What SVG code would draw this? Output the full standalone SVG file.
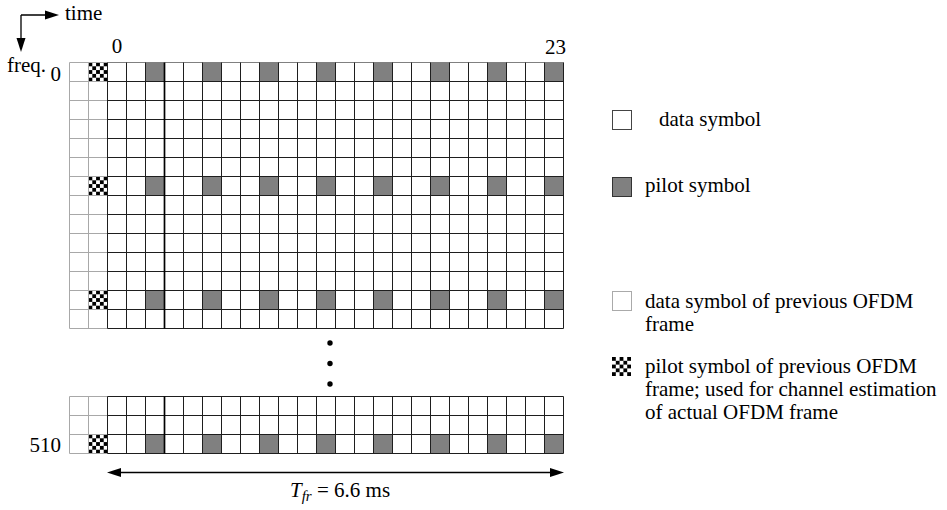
<svg xmlns="http://www.w3.org/2000/svg" width="947" height="510" viewBox="0 0 947 510" font-family="'Liberation Serif','Times New Roman',serif">
<defs>
<style>
text{font-family:"Liberation Serif","Times New Roman",serif;font-size:21px;fill:#000}
.cur{fill:none;stroke:#1e1e1e;stroke-width:1}
.prev{fill:none;stroke:#a8a8a8;stroke-width:1}
.pil{fill:#808080}
.arrow{stroke:#000;stroke-width:1.3;fill:none}
.head{fill:#000}
.sq{fill:#000}
</style>
<pattern id="chkA" patternUnits="userSpaceOnUse" x="88.5" y="62.5" width="7.6" height="7.6">
<rect width="7.6" height="7.6" fill="#fff"/>
<rect class="sq" width="3.8" height="3.8"/>
<rect class="sq" x="3.8" y="3.8" width="3.8" height="3.8"/>
</pattern>
<pattern id="chkB" patternUnits="userSpaceOnUse" x="88.5" y="176.5" width="7.6" height="7.6">
<rect width="7.6" height="7.6" fill="#fff"/>
<rect class="sq" width="3.8" height="3.8"/>
<rect class="sq" x="3.8" y="3.8" width="3.8" height="3.8"/>
</pattern>
<pattern id="chkC" patternUnits="userSpaceOnUse" x="88.5" y="290.5" width="7.6" height="7.6">
<rect width="7.6" height="7.6" fill="#fff"/>
<rect class="sq" width="3.8" height="3.8"/>
<rect class="sq" x="3.8" y="3.8" width="3.8" height="3.8"/>
</pattern>
<pattern id="chkD" patternUnits="userSpaceOnUse" x="88.5" y="434.5" width="7.6" height="7.6">
<rect width="7.6" height="7.6" fill="#fff"/>
<rect class="sq" width="3.8" height="3.8"/>
<rect class="sq" x="3.8" y="3.8" width="3.8" height="3.8"/>
</pattern>
<pattern id="chkE" patternUnits="userSpaceOnUse" x="612" y="357" width="7.6" height="7.6">
<rect width="7.6" height="7.6" fill="#fff"/>
<rect class="sq" width="3.8" height="3.8"/>
<rect class="sq" x="3.8" y="3.8" width="3.8" height="3.8"/>
</pattern>
</defs>

<g id="axes">
<path class="arrow" d="M21,15 H47 M21,15 V40"/>
<polygon class="head" points="45,10.5 59,15 45,19.5"/>
<polygon class="head" points="16.5,38 21,52 25.5,38"/>
<text x="65" y="20">time</text>
<text x="7" y="72">freq.</text>
</g>

<g id="labels">
<text x="117" y="53" text-anchor="middle">0</text>
<text x="555.5" y="54" text-anchor="middle">23</text>
<text x="61" y="81" text-anchor="end">0</text>
<text x="61" y="452" text-anchor="end">510</text>
</g>

<g id="frame-top">
<rect x="88.5" y="62.5" width="19" height="19" fill="url(#chkA)"/>
<rect x="88.5" y="176.5" width="19" height="19" fill="url(#chkB)"/>
<rect x="88.5" y="290.5" width="19" height="19" fill="url(#chkC)"/>
<g class="pil">
<rect x="145.5" y="62.5" width="19" height="19"/><rect x="202.5" y="62.5" width="19" height="19"/><rect x="259.5" y="62.5" width="19" height="19"/><rect x="316.5" y="62.5" width="19" height="19"/><rect x="373.5" y="62.5" width="19" height="19"/><rect x="430.5" y="62.5" width="19" height="19"/><rect x="487.5" y="62.5" width="19" height="19"/><rect x="544.5" y="62.5" width="19" height="19"/>
<rect x="145.5" y="176.5" width="19" height="19"/><rect x="202.5" y="176.5" width="19" height="19"/><rect x="259.5" y="176.5" width="19" height="19"/><rect x="316.5" y="176.5" width="19" height="19"/><rect x="373.5" y="176.5" width="19" height="19"/><rect x="430.5" y="176.5" width="19" height="19"/><rect x="487.5" y="176.5" width="19" height="19"/><rect x="544.5" y="176.5" width="19" height="19"/>
<rect x="145.5" y="290.5" width="19" height="19"/><rect x="202.5" y="290.5" width="19" height="19"/><rect x="259.5" y="290.5" width="19" height="19"/><rect x="316.5" y="290.5" width="19" height="19"/><rect x="373.5" y="290.5" width="19" height="19"/><rect x="430.5" y="290.5" width="19" height="19"/><rect x="487.5" y="290.5" width="19" height="19"/><rect x="544.5" y="290.5" width="19" height="19"/>
</g>
<path class="prev" d="M69.5,62.5 V328.5 M88.5,62.5 V328.5 M69.5,62.5 H107.5 M69.5,81.5 H107.5 M69.5,100.5 H107.5 M69.5,119.5 H107.5 M69.5,138.5 H107.5 M69.5,157.5 H107.5 M69.5,176.5 H107.5 M69.5,195.5 H107.5 M69.5,214.5 H107.5 M69.5,233.5 H107.5 M69.5,252.5 H107.5 M69.5,271.5 H107.5 M69.5,290.5 H107.5 M69.5,309.5 H107.5 M69.5,328.5 H107.5"/>
<path class="prev" d="M107.5,62.5 H563.5" style="stroke:#808080"/>
<path class="cur" d="M107.5,81.5 H563.5 M107.5,100.5 H563.5 M107.5,119.5 H563.5 M107.5,138.5 H563.5 M107.5,157.5 H563.5 M107.5,176.5 H563.5 M107.5,195.5 H563.5 M107.5,214.5 H563.5 M107.5,233.5 H563.5 M107.5,252.5 H563.5 M107.5,271.5 H563.5 M107.5,290.5 H563.5 M107.5,309.5 H563.5 M107.5,328.5 H563.5"/>
<path class="cur" d="M107.5,62.5 V328.5 M126.5,62.5 V328.5 M145.5,62.5 V328.5 M183.5,62.5 V328.5 M202.5,62.5 V328.5 M221.5,62.5 V328.5 M240.5,62.5 V328.5 M259.5,62.5 V328.5 M278.5,62.5 V328.5 M297.5,62.5 V328.5 M316.5,62.5 V328.5 M335.5,62.5 V328.5 M354.5,62.5 V328.5 M373.5,62.5 V328.5 M392.5,62.5 V328.5 M411.5,62.5 V328.5 M430.5,62.5 V328.5 M449.5,62.5 V328.5 M468.5,62.5 V328.5 M487.5,62.5 V328.5 M506.5,62.5 V328.5 M525.5,62.5 V328.5 M544.5,62.5 V328.5 M563.5,62.5 V328.5"/>
<path class="cur" d="M164.5,62.5 V328.5" style="stroke-width:1.7;stroke:#000"/>
</g>

<g id="ellipsis">
<circle cx="330" cy="343" r="2.7"/>
<circle cx="330" cy="363.5" r="2.7"/>
<circle cx="330" cy="384" r="2.7"/>
</g>

<g id="frame-bottom">
<rect x="88.5" y="434.5" width="19" height="19" fill="url(#chkD)"/>
<g class="pil">
<rect x="145.5" y="434.5" width="19" height="19"/><rect x="202.5" y="434.5" width="19" height="19"/><rect x="259.5" y="434.5" width="19" height="19"/><rect x="316.5" y="434.5" width="19" height="19"/><rect x="373.5" y="434.5" width="19" height="19"/><rect x="430.5" y="434.5" width="19" height="19"/><rect x="487.5" y="434.5" width="19" height="19"/><rect x="544.5" y="434.5" width="19" height="19"/>
</g>
<path class="prev" d="M69.5,396.5 V453.5 M88.5,396.5 V453.5 M69.5,396.5 H107.5 M69.5,415.5 H107.5 M69.5,434.5 H107.5 M69.5,453.5 H107.5"/>
<path class="cur" d="M107.5,396.5 H563.5 M107.5,415.5 H563.5 M107.5,434.5 H563.5 M107.5,453.5 H563.5"/>
<path class="cur" d="M107.5,396.5 V453.5 M126.5,396.5 V453.5 M145.5,396.5 V453.5 M183.5,396.5 V453.5 M202.5,396.5 V453.5 M221.5,396.5 V453.5 M240.5,396.5 V453.5 M259.5,396.5 V453.5 M278.5,396.5 V453.5 M297.5,396.5 V453.5 M316.5,396.5 V453.5 M335.5,396.5 V453.5 M354.5,396.5 V453.5 M373.5,396.5 V453.5 M392.5,396.5 V453.5 M411.5,396.5 V453.5 M430.5,396.5 V453.5 M449.5,396.5 V453.5 M468.5,396.5 V453.5 M487.5,396.5 V453.5 M506.5,396.5 V453.5 M525.5,396.5 V453.5 M544.5,396.5 V453.5 M563.5,396.5 V453.5"/>
<path class="cur" d="M164.5,396.5 V453.5" style="stroke-width:1.7;stroke:#000"/>
</g>

<g id="connectors">
<path class="arrow" d="M119,472.5 H551"/>
<polygon class="head" points="107,472.5 121,468 121,477"/>
<polygon class="head" points="564,472.5 550,468 550,477"/>
</g>

<g id="duration-label">
<text x="290" y="497"><tspan font-style="italic">T</tspan><tspan font-style="italic" font-size="15" dy="4">fr</tspan><tspan dy="-4"> = 6.6 ms</tspan></text>
</g>

<g id="legend-data">
<rect x="612.5" y="110.5" width="19" height="19" fill="#fff" stroke="#444"/>
<text x="659" y="126">data symbol</text>
</g>
<g id="legend-pilot">
<rect x="612.5" y="177.5" width="19" height="19" fill="#808080" stroke="#333"/>
<text x="645" y="192">pilot symbol</text>
</g>
<g id="legend-prev-data">
<rect x="612.5" y="291.5" width="19" height="19" fill="#fff" stroke="#aaa"/>
<text x="645" y="308">data symbol of previous OFDM</text>
<text x="645" y="331">frame</text>
</g>
<g id="legend-prev-pilot">
<rect x="612" y="357" width="19" height="19" fill="url(#chkE)"/>
<text x="645" y="373">pilot symbol of previous OFDM</text>
<text x="645" y="396">frame; used for channel estimation</text>
<text x="645" y="419">of actual OFDM frame</text>
</g>
</svg>
